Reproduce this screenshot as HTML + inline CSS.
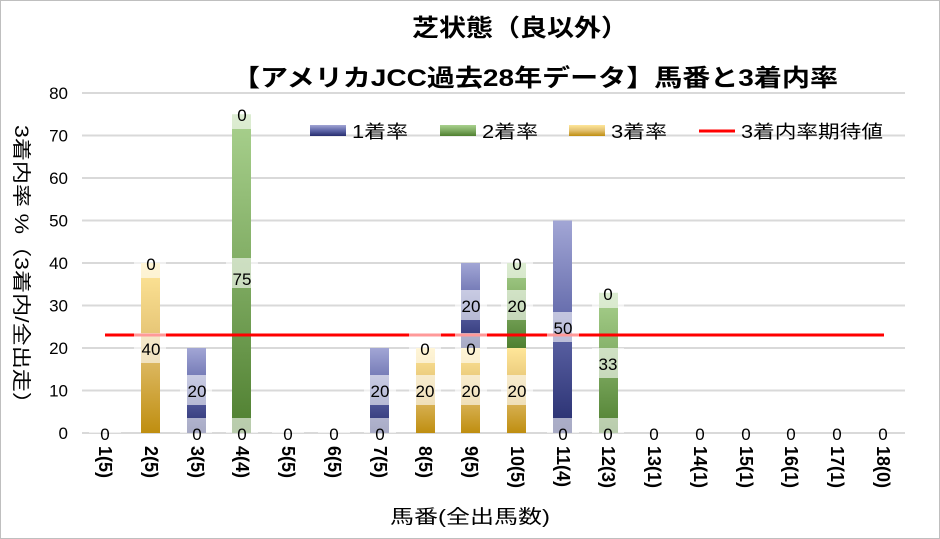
<!DOCTYPE html>
<html><head><meta charset="utf-8"><style>
body{margin:0;background:#fff}
svg{display:block;font-family:"Liberation Sans","Noto Sans CJK JP",sans-serif}
</style></head><body>
<svg width="940" height="539" viewBox="0 0 940 539" xmlns="http://www.w3.org/2000/svg">
<defs>
<linearGradient id="gb" x1="0" y1="1" x2="0" y2="0"><stop offset="0" stop-color="#262d6e"/><stop offset="0.5" stop-color="#5f66a8"/><stop offset="1" stop-color="#a2a6d5"/></linearGradient>
<linearGradient id="gg" x1="0" y1="1" x2="0" y2="0"><stop offset="0" stop-color="#4f7f30"/><stop offset="0.5" stop-color="#7fab62"/><stop offset="1" stop-color="#a9d18e"/></linearGradient>
<linearGradient id="gy" x1="0" y1="1" x2="0" y2="0"><stop offset="0" stop-color="#bf8e10"/><stop offset="0.5" stop-color="#e2c070"/><stop offset="1" stop-color="#ffe699"/></linearGradient>
<clipPath id="pc"><rect x="0" y="0" width="940" height="433"/></clipPath>
</defs>
<rect x="0.5" y="0.5" width="939" height="538" fill="#fff" stroke="#bfbfbf"/>
<text x="412" y="36" font-size="24" font-weight="bold" textLength="216" lengthAdjust="spacingAndGlyphs">芝状態（良以外）</text>
<text x="232" y="86" font-size="24" font-weight="bold" textLength="606" lengthAdjust="spacingAndGlyphs">【アメリカJCC過去28年データ】馬番と3着内率</text>
<g stroke="#d9d9d9" stroke-width="2">
<line x1="82" y1="93" x2="905" y2="93"/><line x1="82" y1="135.5" x2="905" y2="135.5"/><line x1="82" y1="178" x2="905" y2="178"/><line x1="82" y1="220.5" x2="905" y2="220.5"/><line x1="82" y1="263" x2="905" y2="263"/><line x1="82" y1="305.5" x2="905" y2="305.5"/><line x1="82" y1="348" x2="905" y2="348"/><line x1="82" y1="390.5" x2="905" y2="390.5"/><line x1="82" y1="433" x2="905" y2="433"/>
</g>
<g font-size="17" text-anchor="end" fill="#000">
<text x="68" y="99">80</text><text x="68" y="141.5">70</text><text x="68" y="184">60</text><text x="68" y="226.5">50</text><text x="68" y="269">40</text><text x="68" y="311.5">30</text><text x="68" y="354">20</text><text x="68" y="396.5">10</text><text x="68" y="439">0</text>
</g>
<g>
<rect x="141" y="263" width="19" height="170" fill="url(#gy)"/>
<rect x="187" y="348" width="19" height="85" fill="url(#gb)"/>
<rect x="232" y="114.25" width="19" height="318.75" fill="url(#gg)"/>
<rect x="370" y="348" width="19" height="85" fill="url(#gb)"/>
<rect x="416" y="348" width="19" height="85" fill="url(#gy)"/>
<rect x="461" y="348" width="19" height="85" fill="url(#gy)"/>
<rect x="461" y="263" width="19" height="85" fill="url(#gb)"/>
<rect x="507" y="348" width="19" height="85" fill="url(#gy)"/>
<rect x="507" y="263" width="19" height="85" fill="url(#gg)"/>
<rect x="553" y="220.5" width="19" height="212.5" fill="url(#gb)"/>
<rect x="599" y="292.75" width="19" height="140.25" fill="url(#gg)"/>
</g>
<line x1="105" y1="335" x2="884" y2="335" stroke="#ff0000" stroke-width="3"/>
<g fill="#fff" fill-opacity="0.6" clip-path="url(#pc)">
<rect x="89" y="418" width="32" height="30"/>
<rect x="134" y="333" width="32" height="30"/><rect x="134" y="248" width="32" height="30"/>
<rect x="180" y="418" width="32" height="30"/><rect x="180" y="375" width="32" height="30"/>
<rect x="226" y="418" width="32" height="30"/><rect x="226" y="258" width="32" height="30"/><rect x="226" y="99" width="32" height="30"/>
<rect x="272" y="418" width="32" height="30"/><rect x="318" y="418" width="32" height="30"/>
<rect x="364" y="418" width="32" height="30"/><rect x="364" y="375" width="32" height="30"/>
<rect x="409" y="375" width="32" height="30"/><rect x="409" y="333" width="32" height="30"/>
<rect x="455" y="375" width="32" height="30"/><rect x="455" y="333" width="32" height="30"/><rect x="455" y="290" width="32" height="30"/>
<rect x="501" y="375" width="32" height="30"/><rect x="501" y="290" width="32" height="30"/><rect x="501" y="248" width="32" height="30"/>
<rect x="547" y="418" width="32" height="30"/><rect x="547" y="312" width="32" height="30"/>
<rect x="592" y="418" width="32" height="30"/><rect x="592" y="348" width="32" height="30"/><rect x="592" y="278" width="32" height="30"/>
</g>
<g font-size="17" text-anchor="middle" fill="#000">
<text x="105" y="440">0</text>
<text x="151" y="355">40</text><text x="151" y="270">0</text>
<text x="197" y="440">0</text><text x="197" y="397">20</text>
<text x="242" y="440">0</text><text x="242" y="285">75</text><text x="242" y="121">0</text>
<text x="288" y="440">0</text><text x="334" y="440">0</text>
<text x="380" y="440">0</text><text x="380" y="397">20</text>
<text x="425" y="397">20</text><text x="425" y="355">0</text>
<text x="471" y="397">20</text><text x="471" y="355">0</text><text x="471" y="312">20</text>
<text x="517" y="397">20</text><text x="517" y="312">20</text><text x="517" y="270">0</text>
<text x="563" y="440">0</text><text x="563" y="334">50</text>
<text x="608" y="440">0</text><text x="608" y="370">33</text><text x="608" y="300">0</text>
<text x="654" y="440">0</text><text x="700" y="440">0</text><text x="746" y="440">0</text><text x="791" y="440">0</text><text x="837" y="440">0</text><text x="883" y="440">0</text>
</g>
<g font-size="18" font-weight="bold" fill="#000">
<text transform="translate(99,446) rotate(90)">1(5)</text>
<text transform="translate(145,446) rotate(90)">2(5)</text>
<text transform="translate(191,446) rotate(90)">3(5)</text>
<text transform="translate(236,446) rotate(90)">4(4)</text>
<text transform="translate(282,446) rotate(90)">5(5)</text>
<text transform="translate(328,446) rotate(90)">6(5)</text>
<text transform="translate(374,446) rotate(90)">7(5)</text>
<text transform="translate(419,446) rotate(90)">8(5)</text>
<text transform="translate(465,446) rotate(90)">9(5)</text>
<text transform="translate(511,446) rotate(90)">10(5)</text>
<text transform="translate(557,446) rotate(90)">11(4)</text>
<text transform="translate(602,446) rotate(90)">12(3)</text>
<text transform="translate(648,446) rotate(90)">13(1)</text>
<text transform="translate(694,446) rotate(90)">14(1)</text>
<text transform="translate(740,446) rotate(90)">15(1)</text>
<text transform="translate(785,446) rotate(90)">16(1)</text>
<text transform="translate(831,446) rotate(90)">17(1)</text>
<text transform="translate(877,446) rotate(90)">18(0)</text>
</g>
<text x="390" y="523" font-size="19" textLength="160" lengthAdjust="spacingAndGlyphs">馬番(全出馬数)</text>
<text transform="translate(15,125) rotate(90)" font-size="19" textLength="290" lengthAdjust="spacingAndGlyphs">3着内率 %（3着内/全出走）</text>
<g font-size="18">
<rect x="310" y="125" width="36" height="11" fill="url(#gb)"/><text x="352" y="138" textLength="56" lengthAdjust="spacingAndGlyphs">1着率</text>
<rect x="440" y="125" width="36" height="11" fill="url(#gg)"/><text x="482" y="138" textLength="56" lengthAdjust="spacingAndGlyphs">2着率</text>
<rect x="569" y="125" width="36" height="11" fill="url(#gy)"/><text x="611" y="138" textLength="56" lengthAdjust="spacingAndGlyphs">3着率</text>
<line x1="699" y1="131" x2="735" y2="131" stroke="#ff0000" stroke-width="3"/><text x="741" y="138" textLength="142" lengthAdjust="spacingAndGlyphs">3着内率期待値</text>
</g>
</svg>
</body></html>
